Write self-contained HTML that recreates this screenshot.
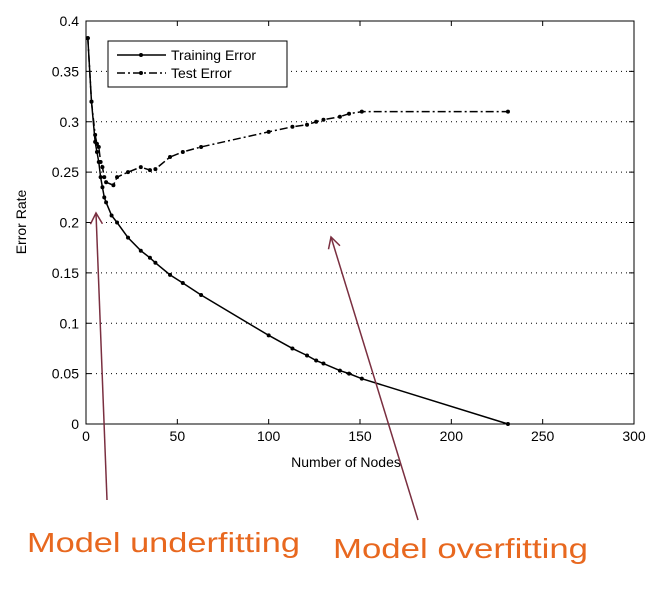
<!DOCTYPE html>
<html><head><meta charset="utf-8"><style>
body{margin:0;background:#fff;}
svg{display:block;font-family:"Liberation Sans",sans-serif;}
</style></head><body>
<svg id="chart" width="667" height="590">
<defs>
<marker id="ah" markerWidth="14" markerHeight="14" refX="12" refY="7" orient="auto" markerUnits="userSpaceOnUse"><path d="M1,1 L12,7 L1,13" fill="none" stroke="#7a2f40" stroke-width="1.5"/></marker>
</defs>
<g id="grid"></g>
<g id="axes"></g>
<g id="series"></g>
<g>
<rect x="108" y="41" width="179" height="46" fill="#fff" stroke="#000" stroke-width="1"/>
<line x1="117" y1="55" x2="166" y2="55" stroke="#000" stroke-width="1.5"/><circle cx="141" cy="55" r="2" fill="#000"/>
<text x="171" y="60" font-size="14">Training Error</text>
<line x1="117" y1="73" x2="166" y2="73" stroke="#000" stroke-width="1.5" stroke-dasharray="8,3,2,3"/><circle cx="141" cy="73" r="2" fill="#000"/>
<text x="171" y="78" font-size="14">Test Error</text>
</g>
<text x="346" y="467" font-size="14" text-anchor="middle">Number of Nodes</text>
<text transform="translate(26,222) rotate(-90)" font-size="14" text-anchor="middle">Error Rate</text>
<line x1="107" y1="500" x2="96" y2="213" stroke="#7a2f40" stroke-width="1.5" marker-end="url(#ah)"/>
<line x1="418" y1="520" x2="331" y2="237" stroke="#7a2f40" stroke-width="1.5" marker-end="url(#ah)"/>
<text x="27" y="552" font-size="28" fill="#e8681f" textLength="273" lengthAdjust="spacingAndGlyphs">Model underfitting</text>
<text x="333" y="558" font-size="28" fill="#e8681f" textLength="255" lengthAdjust="spacingAndGlyphs">Model overfitting</text>
</svg>
<script>
const xTicks=[0,50,100,150,200,250,300];
const yTicks=[0,0.05,0.1,0.15,0.2,0.25,0.3,0.35,0.4];
const yTickLabels=["0","0.05","0.1","0.15","0.2","0.25","0.3","0.35","0.4"];
const trainX=[1,3,5,6,7,8,9,10,11,14,17,23,30,35,38,46,53,63,100,113,121,126,130,139,144,151,231];
const trainY=[0.383,0.32,0.28,0.27,0.26,0.245,0.235,0.225,0.22,0.207,0.2,0.185,0.172,0.165,0.16,0.148,0.14,0.128,0.088,0.075,0.068,0.063,0.06,0.053,0.05,0.045,0];
const testX=[1,3,5,6,7,8,9,10,11,15,17,23,30,35,38,46,53,63,100,113,121,126,130,139,144,151,231];
const testY=[0.383,0.32,0.287,0.278,0.275,0.26,0.255,0.245,0.24,0.237,0.245,0.25,0.255,0.252,0.253,0.265,0.27,0.275,0.29,0.295,0.297,0.3,0.302,0.305,0.308,0.31,0.31];
const X0=86,X1=634,Y0=424,Y1=21;
const sx=v=>X0+(v/300)*(X1-X0);
const sy=v=>Y0-(v/0.4)*(Y0-Y1);
const NS="http://www.w3.org/2000/svg";
function mk(tag,attrs,parent){const e=document.createElementNS(NS,tag);for(const k in attrs)e.setAttribute(k,attrs[k]);parent.appendChild(e);return e;}
const grid=document.getElementById('grid'),axes=document.getElementById('axes'),series=document.getElementById('series');
yTicks.forEach((t,i)=>{
  if(t>0&&t<0.4){const l=mk('line',{x1:X0,x2:X1,y1:sy(t),y2:sy(t),stroke:'#000','stroke-width':1,'stroke-dasharray':'1,4'},grid);
  
  }
  mk('line',{x1:X0,x2:X0+5,y1:sy(t),y2:sy(t),stroke:'#000'},axes);
  mk('line',{x1:X1,x2:X1-5,y1:sy(t),y2:sy(t),stroke:'#000'},axes);
  const tx=mk('text',{x:X0-7,y:sy(t)+5,'font-size':14,'text-anchor':'end'},axes);
  tx.textContent=yTickLabels[i];
  
  
});
xTicks.forEach(t=>{
  mk('line',{x1:sx(t),x2:sx(t),y1:Y0,y2:Y0-5,stroke:'#000'},axes);
  mk('line',{x1:sx(t),x2:sx(t),y1:Y1,y2:Y1+5,stroke:'#000'},axes);
  const tx=mk('text',{x:sx(t),y:Y0+17,'font-size':14,'text-anchor':'middle'},axes);
  tx.textContent=String(t);
  
  
});
const frame=mk('rect',{x:X0,y:Y1,width:X1-X0,height:Y0-Y1,fill:'none',stroke:'#000','stroke-width':1},axes);


function drawSeries(xs,ys,dash,name){
  const pts=xs.map((x,i)=>sx(x)+','+sy(ys[i])).join(' ');
  const p=mk('polyline',{points:pts,fill:'none',stroke:'#000','stroke-width':1.5},series);
  if(dash)p.setAttribute('stroke-dasharray',dash);
  
  
  xs.forEach((x,i)=>{const c=mk('circle',{cx:sx(x),cy:sy(ys[i]),r:2,fill:'#000'},series);
    
    });
}
drawSeries(testX,testY,'8,3,2,3','test-error');
drawSeries(trainX,trainY,null,'training-error');
</script>
</body></html>
